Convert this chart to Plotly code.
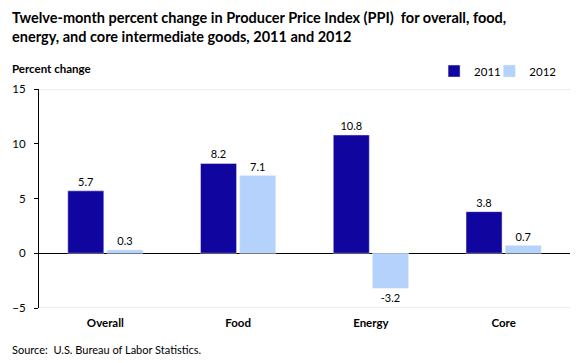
import plotly.graph_objects as go

categories = ["Overall", "Food", "Energy", "Core"]
values_2011 = [5.7, 8.2, 10.8, 3.8]
values_2012 = [0.3, 7.1, -3.2, 0.7]
tick_vals = [-5, 0, 5, 10, 15]

FONT = "Lato, Open Sans, Arial, sans-serif"

fig = go.Figure()
fig.add_trace(go.Bar(name="2011", x=categories, y=values_2011, marker_color="#10069F",
                     text=[f"{v:.1f}" for v in values_2011], textposition="outside",
                     textfont=dict(size=11, color="#000000"), cliponaxis=False,
                     legend="legend"))
fig.add_trace(go.Bar(name="2012", x=categories, y=values_2012, marker_color="#B4D2FC",
                     text=[f"{v:.1f}" for v in values_2012], textposition="outside",
                     textfont=dict(size=11, color="#000000"), cliponaxis=False,
                     legend="legend2"))

legend_common = dict(orientation="h", xanchor="left", y=1.082, yanchor="middle",
                     font=dict(size=11.5), itemwidth=30, bgcolor="rgba(0,0,0,0)")

fig.update_layout(
    width=580, height=363,
    margin=dict(l=39, r=10, t=89, b=55, autoexpand=False),
    paper_bgcolor="white", plot_bgcolor="white",
    font=dict(family=FONT, size=11, color="#000000"),
    barmode="group", bargap=0.41, bargroupgap=0.08,
    showlegend=True,
    legend=dict(x=0.744, **legend_common),
    legend2=dict(x=0.848, **legend_common),
    xaxis=dict(showline=False, showgrid=False, ticks="", tickfont=dict(size=11.5, family=FONT),
               ticklabelstandoff=6),
    yaxis=dict(range=[-5, 15], tickvals=tick_vals, showgrid=False, zeroline=True,
               zerolinecolor="#000000", zerolinewidth=1, showline=True, linecolor="#000000",
               linewidth=1, ticks="outside", ticklen=4, tickcolor="#000000",
               tickfont=dict(size=11.5), ticklabelstandoff=6),
    shapes=[
        dict(type="line", xref="paper", yref="y", x0=0, x1=1, y0=15, y1=15,
             line=dict(color="#D9D9D9", width=1)),
        dict(type="line", xref="paper", yref="y", x0=0, x1=1, y0=-5, y1=-5,
             line=dict(color="#D9D9D9", width=1)),
    ],
    annotations=[
        dict(text="<b>Twelve-month percent change in Producer Price Index (PPI)  for overall, food,<br>energy, and core intermediate goods, 2011 and 2012</b>",
             xref="paper", yref="paper", x=0, y=1, xshift=-29, yshift=82, xanchor="left", yanchor="top",
             align="left", showarrow=False, font=dict(size=14.5, family=FONT)),
        dict(text="<b>Percent change</b>", xref="paper", yref="paper", x=0, y=1, xshift=-29, yshift=21,
             xanchor="left", yanchor="middle", showarrow=False, font=dict(size=11.5, family=FONT)),
        dict(text="Source:  U.S. Bureau of Labor Statistics.", xref="paper", yref="paper", x=0, y=0,
             xshift=-29, yshift=-41, xanchor="left", yanchor="middle", showarrow=False,
             font=dict(size=11, family=FONT)),
    ],
)
fig.update_xaxes(tickprefix="<b>", ticksuffix="</b>")

fig.write_html("out.html", config={"displayModeBar": False},
               post_script="document.body.style.margin='0';document.body.style.padding='0';")
